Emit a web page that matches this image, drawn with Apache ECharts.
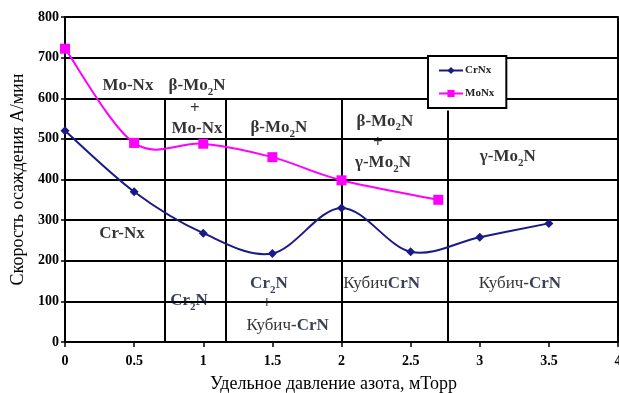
<!DOCTYPE html>
<html>
<head>
<meta charset="utf-8">
<script src="https://cdn.jsdelivr.net/npm/echarts@6/dist/echarts.min.js"></script>
<style>
html,body{margin:0;padding:0;background:#fff;}
#chart{width:619px;height:393px;}
</style>
</head>
<body>
<div id="chart"></div>
<script>
// ---- data ----
const crPressure = [0, 0.5, 1, 1.5, 2, 2.5, 3, 3.5];
const crRate = [520, 370, 268, 218, 330, 222, 258, 292];
const moPressure = [0, 0.5, 1, 1.5, 2, 2.7];
const moRate = [722, 490, 488, 455, 398, 350];
const seriesNames = ['CrNx', 'MoNx'];
// phase boundaries: pressure and top rate
const boundaryX = [0.72, 1.16, 2.0, 2.77];
const boundaryTop = [600, 600, 600, 570];
// phase annotations: pressure, rate, rich text
const annotX = [0.455, 0.955, 0.94, 0.955, 1.547, 2.314, 2.263, 2.30, 3.203, 0.412, 0.897, 1.475, 1.46, 1.61, 2.29, 3.29];
const annotY = [627, 627, 572, 521, 523, 540, 486, 437, 452, 264, 97, 139, 90, 37, 141, 141];
const annotText = [
  '{b|Mo-Nx}',
  '{b|β-Mo}{s|2}{b|N}',
  '{b|+}',
  '{b|Mo-Nx}',
  '{b|β-Mo}{s|2}{b|N}',
  '{b|β-Mo}{s|2}{b|N}',
  '{b|+}',
  '{b|γ-Mo}{s|2}{b|N}',
  '{b|γ-Mo}{s|2}{b|N}',
  '{b|Cr-Nx}',
  '{c|Cr}{cs|2}{c|N}',
  '{c|Cr}{cs|2}{c|N}',
  '{c|+}',
  '{n|Кубич}{c|-CrN}',
  '{n|Кубич}{c|CrN}',
  '{n|Кубич}{c|-CrN}'
];

const serif = '"Liberation Serif","DejaVu Serif",serif';
const crColor = '#1a1a86';
const moColor = '#ff00ff';
const crTextColor = '#0a0f2c';
const chart = echarts.init(document.getElementById('chart'));

const crData = crPressure.map((x, i) => [x, crRate[i]]);
const moData = moPressure.map((x, i) => [x, moRate[i]]);
const annotData = annotX.map((x, i) => [x, annotY[i], annotText[i]]);
const boundaryLines = boundaryX.map((x, i) => [{coord: [x, 0]}, {coord: [x, boundaryTop[i]]}]);

// smooth curve (Catmull-Rom style bezier, like spreadsheet "smoothed line")
function smoothRenderer(xs, ys, color) {
  return function (params, api) {
    const p = xs.map((x, i) => api.coord([x, ys[i]]));
    const n = p.length;
    const children = [];
    for (let i = 0; i < n - 1; i++) {
      const p0 = p[Math.max(i - 1, 0)], p1 = p[i], p2 = p[i + 1], p3 = p[Math.min(i + 2, n - 1)];
      children.push({
        type: 'bezierCurve',
        shape: {
          x1: p1[0], y1: p1[1], x2: p2[0], y2: p2[1],
          cpx1: p1[0] + (p2[0] - p0[0]) / 6, cpy1: p1[1] + (p2[1] - p0[1]) / 6,
          cpx2: p2[0] - (p3[0] - p1[0]) / 6, cpy2: p2[1] - (p3[1] - p1[1]) / 6
        },
        style: {stroke: color, lineWidth: 2, fill: null}
      });
    }
    return {type: 'group', children: children};
  };
}

const tokenBase = {fontFamily: serif, textBorderWidth: 0, textBorderColor: 'transparent'};

chart.setOption({
  animation: false,
  backgroundColor: '#fff',
  grid: {left: 65, right: 1, top: 17, bottom: 51, containLabel: false, outerBoundsMode: 'none'},
  legend: {
    data: [
      {name: 'CrNx', lineStyle: {opacity: 1, color: crColor, width: 2}},
      {name: 'MoNx', lineStyle: {opacity: 1, color: moColor, width: 2}}
    ],
    orient: 'vertical',
    left: 428, top: 56,
    padding: [9, 12, 9, 10],
    itemGap: 12,
    itemWidth: 24, itemHeight: 9,
    backgroundColor: '#fff',
    borderColor: '#000', borderWidth: 2, borderRadius: 0,
    lineStyle: {opacity: 1},
    textStyle: {fontFamily: serif, fontSize: 11, fontWeight: 'bold', color: '#222', padding: [0, 0, 0, -3]}
  },
  xAxis: {
    type: 'value', min: 0, max: 4, interval: 0.5,
    name: 'Удельное давление азота, мТорр',
    nameLocation: 'middle', nameGap: 33,
    nameTextStyle: {fontFamily: serif, fontSize: 18, color: '#000', padding: [0, 16, 0, 0]},
    axisLine: {show: true, onZero: false, lineStyle: {color: '#000', width: 2}},
    axisTick: {show: true, length: 5, lineStyle: {color: '#000', width: 1.5}},
    axisLabel: {fontFamily: serif, fontSize: 14, fontWeight: 'bold', color: '#000', margin: 12},
    splitLine: {show: false}
  },
  yAxis: [{
    type: 'value', min: 0, max: 800, interval: 100,
    name: 'Скорость осаждения А/мин',
    nameLocation: 'middle', nameGap: 37,
    nameTextStyle: {fontFamily: serif, fontSize: 18, color: '#000'},
    axisLine: {show: true, lineStyle: {color: '#000', width: 2}},
    axisTick: {show: true, length: 4, lineStyle: {color: '#000', width: 1.5}},
    axisLabel: {fontFamily: serif, fontSize: 14, fontWeight: 'bold', color: '#000', margin: 6},
    splitLine: {show: true, lineStyle: {color: '#000', width: 2}}
  }, {
    type: 'value', min: 0, max: 800, interval: 100, position: 'right',
    axisLine: {show: true, lineStyle: {color: '#000', width: 2}},
    axisTick: {show: false}, axisLabel: {show: false}, splitLine: {show: false}
  }],
  series: [
    {
      name: 'CrNx', type: 'line', data: crData,
      color: crColor,
      symbol: 'diamond', symbolSize: 9,
      lineStyle: {width: 2, color: crColor, opacity: 0},
      itemStyle: {color: crColor},
      z: 6,
      markLine: {
        silent: true, symbol: 'none', label: {show: false},
        lineStyle: {color: '#000', width: 2, type: 'solid', opacity: 1},
        data: boundaryLines, z: 2
      }
    },
    {
      name: 'MoNx', type: 'line', data: moData,
      color: moColor,
      symbol: 'rect', symbolSize: 10,
      lineStyle: {width: 2, color: moColor, opacity: 0},
      itemStyle: {color: moColor},
      z: 6
    },
    {
      name: 'CrNx curve', type: 'custom', coordinateSystem: 'cartesian2d',
      data: [[0, 0]], silent: true, z: 5, clip: false,
      renderItem: smoothRenderer(crPressure, crRate, crColor)
    },
    {
      name: 'MoNx curve', type: 'custom', coordinateSystem: 'cartesian2d',
      data: [[0, 0]], silent: true, z: 5, clip: false,
      renderItem: smoothRenderer(moPressure, moRate, moColor)
    },
    {
      name: 'annot', type: 'scatter', data: annotData,
      symbolSize: 1, itemStyle: {color: 'rgba(0,0,0,0)'},
      silent: true, z: 10,
      label: {
        show: true, position: 'inside',
        color: '#000', textBorderWidth: 0, textBorderColor: 'transparent',
        formatter: p => p.data[2],
        rich: {
          b: Object.assign({}, tokenBase, {fontSize: 17, fontWeight: 'bold', color: '#000', lineHeight: 20, verticalAlign: 'top'}),
          c: Object.assign({}, tokenBase, {fontSize: 17, fontWeight: 'bold', color: crTextColor, lineHeight: 20, verticalAlign: 'top'}),
          n: Object.assign({}, tokenBase, {fontSize: 17, color: '#000', lineHeight: 20, verticalAlign: 'top'}),
          s: Object.assign({}, tokenBase, {fontSize: 11, fontWeight: 'bold', color: '#000', lineHeight: 11, verticalAlign: 'bottom'}),
          cs: Object.assign({}, tokenBase, {fontSize: 11, fontWeight: 'bold', color: crTextColor, lineHeight: 11, verticalAlign: 'bottom'})
        }
      }
    }
  ]
});
</script>
</body>
</html>
